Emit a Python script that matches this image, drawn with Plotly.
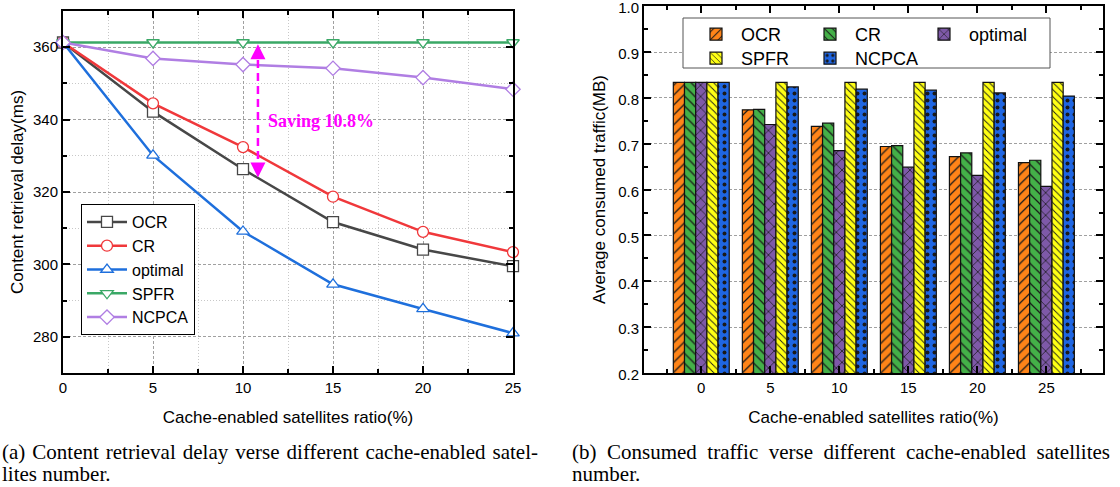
import plotly.graph_objects as go

# ---------------- data ----------------
ratio = [0, 5, 10, 15, 20, 25]
delay_ocr = [361.3, 342.2, 326.3, 311.7, 304.1, 299.5]
delay_cr = [361.3, 344.5, 332.4, 318.7, 309.0, 303.4]
delay_optimal = [361.3, 330.1, 309.1, 294.5, 287.7, 281.0]
delay_spfr = [361.3, 361.3, 361.3, 361.3, 361.3, 361.3]
delay_ncpca = [361.3, 356.9, 355.2, 354.2, 351.6, 348.4]

categories = ['0', '5', '10', '15', '20', '25']
traffic_ocr = [0.834, 0.774, 0.738, 0.694, 0.672, 0.659]
traffic_cr = [0.834, 0.775, 0.745, 0.696, 0.680, 0.664]
traffic_optimal = [0.834, 0.742, 0.685, 0.649, 0.631, 0.607]
traffic_spfr = [0.834, 0.834, 0.834, 0.834, 0.834, 0.834]
traffic_ncpca = [0.834, 0.824, 0.819, 0.817, 0.811, 0.804]

W, H = 1120, 487
SANS = 'Liberation Sans, Arial, sans-serif'
SERIF = 'Liberation Serif, Times New Roman, serif'

fig = go.Figure()

# ---------------- left: line chart ----------------
line_specs = [
    ('OCR', delay_ocr, '#474747', 'square'),
    ('CR', delay_cr, '#f0383b', 'circle'),
    ('optimal', delay_optimal, '#1e6fdc', 'triangle-up'),
    ('SPFR', delay_spfr, '#3aa866', 'triangle-down'),
    ('NCPCA', delay_ncpca, '#b07ee3', 'diamond'),
]
for name, ys, col, sym in line_specs:
    fig.add_trace(go.Scatter(
        x=ratio, y=ys, name=name, mode='lines+markers',
        line=dict(color=col, width=2.5),
        marker=dict(symbol=sym, size=11, color='white',
                    line=dict(color=col, width=1.3)),
        cliponaxis=False, xaxis='x', yaxis='y', legend='legend'))

# ---------------- right: bar chart ----------------
bar_specs = [
    ('OCR', traffic_ocr, '#ff8418', '/', 7, 'legend2'),
    ('CR', traffic_cr, '#44b048', '\\', 7, 'legend2'),
    ('optimal', traffic_optimal, '#7e59a8', 'x', 8, 'legend2'),
    ('SPFR', traffic_spfr, '#ffff14', '\\', 5, 'legend3'),
    ('NCPCA', traffic_ncpca, '#1f66e3', '.', 7, 'legend3'),
]
xpos = list(range(len(categories)))
for name, ys, col, shp, sz, lg in bar_specs:
    fig.add_trace(go.Bar(
        x=xpos, y=ys, name=name,
        marker=dict(color=col, line=dict(color='#111111', width=1.2),
                    pattern=dict(shape=shp, fgcolor='#1a1a1a', bgcolor=col,
                                 size=sz, solidity=0.18 if shp != '.' else 0.25,
                                 fillmode='replace')),
        xaxis='x2', yaxis='y2', legend=lg))

# ---------------- axes ----------------
common_axis = dict(showline=True, linecolor='black', linewidth=2, mirror='ticks',
                   ticks='inside', ticklen=7, tickwidth=1.5, tickcolor='black',
                   tickfont=dict(family=SANS, size=15, color='black'),
                   zeroline=False, automargin=False, ticklabeloverflow='allow')
title_font = dict(family=SANS, size=17, color='black')

yd = [(H - 373) / H, (H - 11) / H]
yd2 = [(H - 373) / H, (H - 6) / H]

fig.update_layout(
    width=W, height=H,
    margin=dict(l=0, r=0, t=0, b=0, autoexpand=False),
    plot_bgcolor='white', paper_bgcolor='white',
    bargap=0.19, bargroupgap=0, barmode='group',
    xaxis=dict(domain=[63 / W, 513 / W], range=[0, 25], dtick=5, **common_axis,
               showgrid=True, gridcolor='#a0a0a0', gridwidth=1, griddash='3px,2px',
               minor=dict(dtick=2.5, ticks='inside', ticklen=4, tickcolor='black',
                          showgrid=True, gridcolor='#c8c8c8', griddash='1px,2px'),
               title=dict(text='Cache-enabled satellites ratio(%)', font=title_font,
                          standoff=16)),
    yaxis=dict(domain=yd, range=[270, 370], dtick=20, **common_axis,
               showgrid=True, gridcolor='#a0a0a0', gridwidth=1, griddash='3px,2px',
               minor=dict(dtick=10, ticks='inside', ticklen=4, tickcolor='black',
                          showgrid=True, gridcolor='#c8c8c8', griddash='1px,2px'),
               title=dict(text='Content retrieval delay(ms)', font=title_font,
                          standoff=5)),
    xaxis2=dict(domain=[644 / W, 1103 / W], range=[-0.83, 5.82], anchor='y2',
                tickvals=xpos, ticktext=categories, **common_axis, showgrid=False,
                minor=dict(dtick=0.5, tick0=0.5, ticks='inside', ticklen=4, tickcolor='black'),
                title=dict(text='Cache-enabled satellites ratio(%)', font=title_font,
                           standoff=16)),
    yaxis2=dict(domain=yd2, range=[0.2, 1.0005], dtick=0.1, tick0=0, tickformat='.1f',
                anchor='x2', **common_axis, ticklabelshift=2,
                showgrid=True, gridcolor='#a0a0a0', gridwidth=1,
                griddash='3px,2px',
                minor=dict(dtick=0.05, ticks='inside', ticklen=4, tickcolor='black'),
                title=dict(text='Average consumed traffic(MB)', font=title_font,
                           standoff=8)),
    legend=dict(x=81 / W, y=1 - 204 / H, xanchor='left', yanchor='top',
                bgcolor='white', bordercolor='black', borderwidth=1,
                font=dict(family=SANS, size=16, color='black'),
                tracegroupgap=0, itemwidth=40),
    legend2=dict(x=691 / W, y=1 - 16 / H, xanchor='left', yanchor='top',
                 orientation='h', bgcolor='rgba(0,0,0,0)', borderwidth=0, itemwidth=40,
                 entrywidth=59, font=dict(family=SANS, size=18, color='black')),
    legend3=dict(x=691 / W, y=1 - 40 / H, xanchor='left', yanchor='top',
                 orientation='h', bgcolor='rgba(0,0,0,0)', borderwidth=0, itemwidth=40,
                 entrywidth=59, font=dict(family=SANS, size=18, color='black')),
    showlegend=True,
)

# legend frame for the bar chart
fig.add_shape(type='rect', xref='paper', yref='paper',
              x0=683 / W, x1=1050 / W, y0=1 - 68 / H, y1=1 - 18 / H,
              line=dict(color='#555555', width=1), fillcolor='white', layer='above')

# saving annotation (dashed double arrow)
arrow_x = 10.83
arrow_top = 360.8
arrow_bottom = 324.0
fig.add_shape(type='line', xref='x', yref='y', x0=arrow_x, x1=arrow_x,
              y0=arrow_bottom + 1.5, y1=arrow_top - 1.5,
              line=dict(color='#ff00ff', width=2.5, dash='8px,5px'))
for tip, off in [(arrow_top, 14), (arrow_bottom, -14)]:
    fig.add_annotation(x=arrow_x, y=tip, xref='x', yref='y', ax=0, ay=off,
                       text='', showarrow=True, arrowhead=2, arrowsize=1.2,
                       arrowwidth=2.5, arrowcolor='#ff00ff')
fig.add_annotation(x=11.3, y=339.5, xref='x', yref='y', xanchor='left', yanchor='middle',
                   text='<b>Saving 10.8%</b>', showarrow=False,
                   font=dict(family=SERIF, size=18, color='#ff00ff'))

# captions (line 1 of each is justified like the source page)
NB = '\u00a0'
HS = '\u200a'
cap_font = dict(family=SERIF, size=21, color='black')
cap_a1 = (' ' + HS).join('(a) Content retrieval delay verse different cache-enabled satel-'.split(' '))
cap_b1 = (' ' + NB).join('(b) Consumed traffic verse different cache-enabled satellites'.split(' '))
captions = [
    (0, 452, cap_a1),
    (0, 474, 'lites number.'),
    (570, 452, cap_b1),
    (570, 474, 'number.'),
]
for cx, cy, txt in captions:
    fig.add_annotation(x=cx / W, y=1 - cy / H, xref='paper', yref='paper',
                       xanchor='left', yanchor='middle', text=txt, showarrow=False,
                       font=cap_font)

fig.write_html('out.html')
